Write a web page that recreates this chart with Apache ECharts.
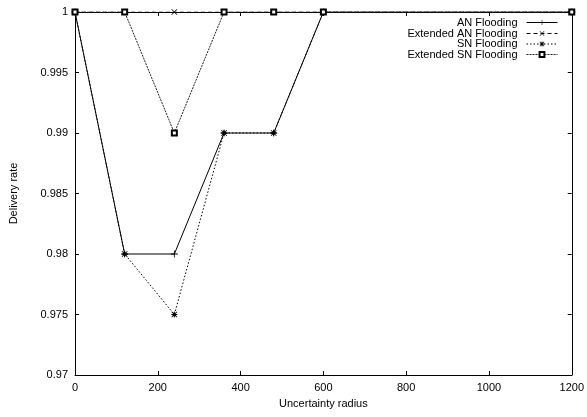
<!DOCTYPE html>
<html>
<head>
<meta charset="utf-8">
<script src="https://cdn.jsdelivr.net/npm/echarts@6/dist/echarts.min.js"></script>
<style>html,body{margin:0;padding:0;background:#fff}#c{width:587px;height:417px}</style>
</head>
<body>
<div id="c"></div>
<script>
// Data
const radius = [0, 120, 240, 360, 480, 600, 1200];
const anFlooding = [1, 0.98, 0.98, 0.99, 0.99, 1, 1];
const extAnFlooding = [1, 1, 1, 1, 1, 1, 1];
const snFlooding = [1, 0.98, 0.975, 0.99, 0.99, 1, 1];
const extSnFlooding = [1, 1, 0.99, 1, 1, 1, 1];
const seriesNames = ['AN Flooding', 'Extended AN Flooding', 'SN Flooding', 'Extended SN Flooding'];

const FONT = 'Liberation Sans';
const plus = 'path://M0,4.4H10V5.6H0Z M4.4,0H5.6V10H4.4Z';
const cross = 'path://M0.8,0L5,4.2L9.2,0L10,0.8L5.8,5L10,9.2L9.2,10L5,5.8L0.8,10L0,9.2L4.2,5L0,0.8Z';
const star = 'path://M0,4.3H10V5.7H0Z M4.3,0H5.7V10H4.3Z M1,0L5,4L9,0L10,1L6,5L10,9L9,10L5,6L1,10L0,9L4,5L0,1Z M2,2H8V8H2Z';

function pairs(ys){ return radius.map((x,i)=>[x, ys[i]]); }

const chart = echarts.init(document.getElementById('c'), null, {renderer:'canvas'});
const axisCommon = {
  axisLine:{show:true, onZero:false, lineStyle:{color:'#000', width:1}},
  axisTick:{show:true, inside:true, length:4, lineStyle:{color:'#000', width:1}},
  splitLine:{show:false}
};
function legendAt(i, top){
  return {
    data:[seriesNames[i]], orient:'vertical', right:29, top:top, align:'right',
    itemWidth:31, itemHeight:6, itemGap:0, padding:0,
    lineStyle:{width:1},
    textStyle:{fontFamily:FONT, fontSize:11, color:'#000', padding:[0,4,0,0]},
    selectedMode:false
  };
}
const styles = [
  {line:{type:'solid', color:'#000', width:1}, sym:plus, size:7},
  {line:{type:[4,3], color:'#000', width:1}, sym:cross, size:6},
  {line:{type:[1.5,2], color:'#000', width:1}, sym:star, size:6},
  {line:{type:[2,1], color:'#222', width:1}, sym:'emptyRect', size:5}
];
const datas = [anFlooding, extAnFlooding, snFlooding, extSnFlooding];
const series = datas.map((d,i)=>({
  name:seriesNames[i], type:'line', data:pairs(d),
  symbol:styles[i].sym, symbolSize:styles[i].size, showAllSymbol:true,
  lineStyle:styles[i].line,
  itemStyle:{color:'#000', borderColor:'#000', borderWidth: i===3 ? 1.5 : 0},
  emphasis:{disabled:true}, animation:false, z: 3
}));

chart.setOption({
  animation:false,
  backgroundColor:'#fff',
  textStyle:{fontFamily:FONT},
  legend:[legendAt(0,17), legendAt(1,28), legendAt(2,38.5), legendAt(3,49)],
  grid:{left:75, right:15, top:12, bottom:42},
  xAxis:[
    Object.assign({type:'value', min:0, max:1200, interval:200,
      name:'Uncertainty radius', nameLocation:'middle', nameGap:23,
      nameTextStyle:{fontFamily:FONT, fontSize:11, color:'#000'},
      axisLabel:{fontFamily:FONT, fontSize:11, color:'#000', margin:7,
        formatter:v=>String(v)}}, axisCommon),
    Object.assign({type:'value', position:'top', min:0, max:1200, interval:200,
      axisLabel:{show:false}}, axisCommon)
  ],
  yAxis:[
    Object.assign({type:'value', min:0.97, max:1, interval:0.005,
      name:'Delivery rate', nameLocation:'middle', nameGap:56,
      nameTextStyle:{fontFamily:FONT, fontSize:11, color:'#000'},
      axisLabel:{fontFamily:FONT, fontSize:11, color:'#000', margin:7,
        formatter:v=>String(+v.toFixed(3))}}, axisCommon),
    Object.assign({type:'value', position:'right', min:0.97, max:1, interval:0.005,
      axisLabel:{show:false}}, axisCommon)
  ],
  series:series
});
</script>
</body>
</html>
